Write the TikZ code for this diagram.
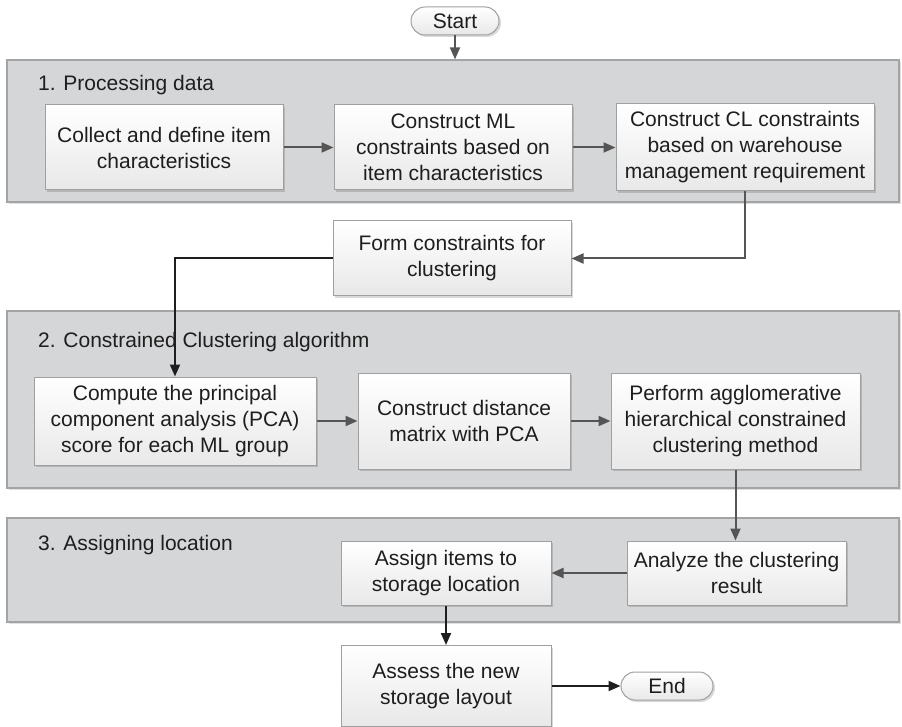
\documentclass[tikz,border=0pt]{standalone}
\usepackage{fontspec}
\setmainfont{Liberation Sans}
\usetikzlibrary{arrows.meta,shadows}
\definecolor{panelfill}{HTML}{D5D6D8}
\definecolor{panelline}{HTML}{A3A4A6}
\definecolor{boxline}{HTML}{A0A0A0}
\definecolor{arrgray}{HTML}{555555}
\definecolor{arrdark}{HTML}{1E1E1E}
\definecolor{txt}{HTML}{1E1E1E}
\tikzset{
  mainfont/.style={font=\fontsize{21}{26}\selectfont, text=txt},
  panel/.style={rectangle, draw=panelline, line width=1.2pt, fill=panelfill, inner sep=0pt,
    drop shadow={shadow xshift=2pt, shadow yshift=-2pt, fill=black, opacity=0.12}},
  stepbox/.style={rectangle, draw=boxline, line width=1pt, top color=white, bottom color=black!9,
    align=center, inner sep=0pt, mainfont,
    drop shadow={shadow xshift=2pt, shadow yshift=-2pt, fill=black, opacity=0.15}},
  term/.style={stepbox, rounded corners=14pt},
  plabel/.style={anchor=west, mainfont, inner sep=0pt},
  garrow/.style={draw=arrgray, line width=2pt, -{Triangle[length=12pt,width=10pt]}},
  barrow/.style={draw=arrdark, line width=2pt, -{Triangle[length=12pt,width=10pt]}}
}
\begin{document}
\begin{tikzpicture}[x=1pt,y=-1pt]
\useasboundingbox (0,0) rectangle (902,727);
% panels
\node[panel, minimum width=892pt, minimum height=142pt] (p1) at (453,131) {};
\node[panel, minimum width=892pt, minimum height=177pt] (p2) at (453,399.5) {};
\node[panel, minimum width=892pt, minimum height=104pt] (p3) at (453,570) {};
\node[plabel] (l1) at (38,85) {1. Processing data};
\node[plabel] (l2) at (38,342) {2. Constrained Clustering algorithm};
\node[plabel] (l3) at (38,545) {3. Assigning location};
% terminals
\node[term, minimum width=88pt, minimum height=28pt] (start) at (455,21) {Start};
\node[term, minimum width=92pt, minimum height=28pt] (end) at (667,686) {End};
% panel 1 boxes
\node[stepbox, minimum width=238pt, minimum height=85pt] (b1) at (164,147.5) {Collect and define item\\characteristics};
\node[stepbox, minimum width=238pt, minimum height=85pt] (b2) at (453,147.5) {Construct ML\\constraints based on\\item characteristics};
\node[stepbox, minimum width=258pt, minimum height=87pt] (b3) at (745,147.5) {Construct CL constraints\\based on warehouse\\management requirement};
\node[stepbox, minimum width=238pt, minimum height=75pt] (form) at (452,258.5) {Form constraints for\\clustering};
% panel 2 boxes
\node[stepbox, minimum width=282pt, minimum height=88pt] (c1) at (175,421) {Compute the principal\\component analysis (PCA)\\score for each ML group};
\node[stepbox, minimum width=212pt, minimum height=96pt] (c2) at (464,421) {Construct distance\\matrix with PCA};
\node[stepbox, minimum width=249pt, minimum height=96pt] (c3) at (735.5,421) {Perform agglomerative\\hierarchical constrained\\clustering method};
% panel 3 boxes
\node[stepbox, minimum width=219pt, minimum height=64pt] (analyze) at (736.5,573) {Analyze the clustering\\result};
\node[stepbox, minimum width=210pt, minimum height=64pt] (assign) at (446,573) {Assign items to\\storage location};
\node[stepbox, minimum width=210pt, minimum height=81pt] (assess) at (446,686) {Assess the new\\storage layout};
% connectors
\draw[garrow] (start.south) -- (start.south |- p1.north);
\draw[garrow] (b1) -- (b2);
\draw[garrow] (b2) -- (b3);
\draw[garrow] (b3.south) |- (form.east);
\draw[barrow] (form.west) -| (c1.north);
\draw[garrow] (c1) -- (c2);
\draw[garrow] (c2) -- (c3);
\draw[garrow] (c3.south) -- (c3.south |- analyze.north);
\draw[garrow] (analyze) -- (assign);
\draw[barrow] (assign) -- (assess);
\draw[barrow] (assess) -- (end);
\end{tikzpicture}
\end{document}
